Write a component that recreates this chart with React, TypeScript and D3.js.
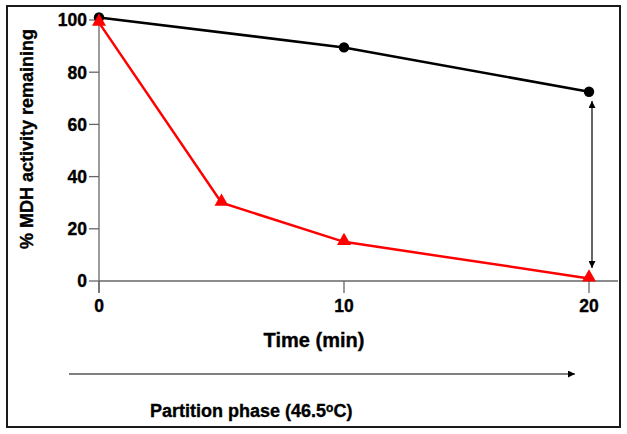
import React from "react";
import * as d3 from "d3";

const timeMin = [0, 10, 20];
const controlValues = [101, 89.5, 72.5];
const partitionTime = [0, 5, 10, 20];
const partitionValues = [99, 30, 15, 1];
const xTicks = [0, 10, 20];
const yTicks = [0, 20, 40, 60, 80, 100];

const W = 627;
const H = 434;
const FONT = "Liberation Sans, Arial, Helvetica, sans-serif";

export default function App() {
  const x = d3.scaleLinear().domain([0, 20]).range([99, 589]);
  const y = d3.scaleLinear().domain([0, 100]).range([281, 20]);

  const line = d3
    .line<[number, number]>()
    .x((d) => x(d[0]))
    .y((d) => y(d[1]));

  const blackPts: [number, number][] = timeMin.map((t, i) => [t, controlValues[i]]);
  const redPts: [number, number][] = partitionTime.map((t, i) => [t, partitionValues[i]]);

  const circle = d3.symbol().type(d3.symbolCircle).size(85)();
  const tri = d3.symbol().type(d3.symbolTriangle).size(85)();

  const axisColor = "#666";
  const x0 = x(0);
  const y0 = y(0);
  const txt = { fill: "#000", stroke: "#000", strokeWidth: 0.35, fontWeight: "bold" as const };

  return (
    <svg
      width={W}
      height={H}
      style={{ position: "absolute", left: 0, top: 0, background: "#fff" }}
      fontFamily={FONT}
    >
      <defs>
        <marker id="ah" viewBox="0 0 10 10" refX="10" refY="5" markerWidth="7" markerHeight="7" orient="auto-start-reverse" markerUnits="userSpaceOnUse">
          <path d="M0,0 L10,5 L0,10 z" fill="#000" />
        </marker>
      </defs>
      <rect x={7} y={6} width={613} height={421} fill="#fff" stroke="#1a1a1a" strokeWidth={2} />

      {/* axes */}
      <line x1={x0} x2={x0} y1={y(100) - 1} y2={y0 + 12} stroke={axisColor} strokeWidth={1.3} />
      <line x1={x0} x2={618} y1={y0} y2={y0} stroke={axisColor} strokeWidth={1.3} />
      {yTicks.map((t) => (
        <g key={"y" + t}>
          <line x1={x0 - 10} x2={x0} y1={y(t)} y2={y(t)} stroke={axisColor} strokeWidth={1.3} />
          <text x={x0 - 12} y={y(t)} dy="0.36em" textAnchor="end" fontSize={17.5} {...txt}>
            {t}
          </text>
        </g>
      ))}
      {xTicks.map((t) => (
        <g key={"x" + t}>
          <line x1={x(t)} x2={x(t)} y1={y0} y2={y0 + 12} stroke={axisColor} strokeWidth={1.3} />
          <text x={x(t)} y={312} textAnchor="middle" fontSize={17.5} {...txt}>
            {t}
          </text>
        </g>
      ))}

      <text x={314} y={347} textAnchor="middle" fontSize={20} {...txt}>
        Time (min)
      </text>
      <text
        transform={`translate(33,139) rotate(-90)`}
        textAnchor="middle"
        fontSize={18}
        {...txt}
      >
        % MDH activity remaining
      </text>

      {/* series */}
      <path d={line(blackPts) || ""} fill="none" stroke="#000" strokeWidth={2.5} />
      {blackPts.map((p, i) => (
        <path key={"c" + i} d={circle || ""} transform={`translate(${x(p[0])},${y(p[1])})`} fill="#000" />
      ))}
      <path d={line(redPts) || ""} fill="none" stroke="#ff0000" strokeWidth={2.5} />
      {redPts.map((p, i) => (
        <path key={"t" + i} d={tri || ""} transform={`translate(${x(p[0])},${y(p[1]) - 1})`} fill="#ff0000" />
      ))}

      {/* double arrow */}
      <line x1={592} x2={592} y1={101} y2={268} stroke="#000" strokeWidth={1.2} markerStart="url(#ah)" markerEnd="url(#ah)" />

      {/* horizontal arrow */}
      <line x1={69} x2={575} y1={374} y2={374} stroke="#000" strokeWidth={1.2} markerEnd="url(#ah)" />

      <text x={150} y={417} fontSize={18} {...txt}>
        Partition phase (46.5
        <tspan dy={-5} fontSize={12}>o</tspan>
        <tspan dy={5}>C)</tspan>
      </text>
    </svg>
  );
}
